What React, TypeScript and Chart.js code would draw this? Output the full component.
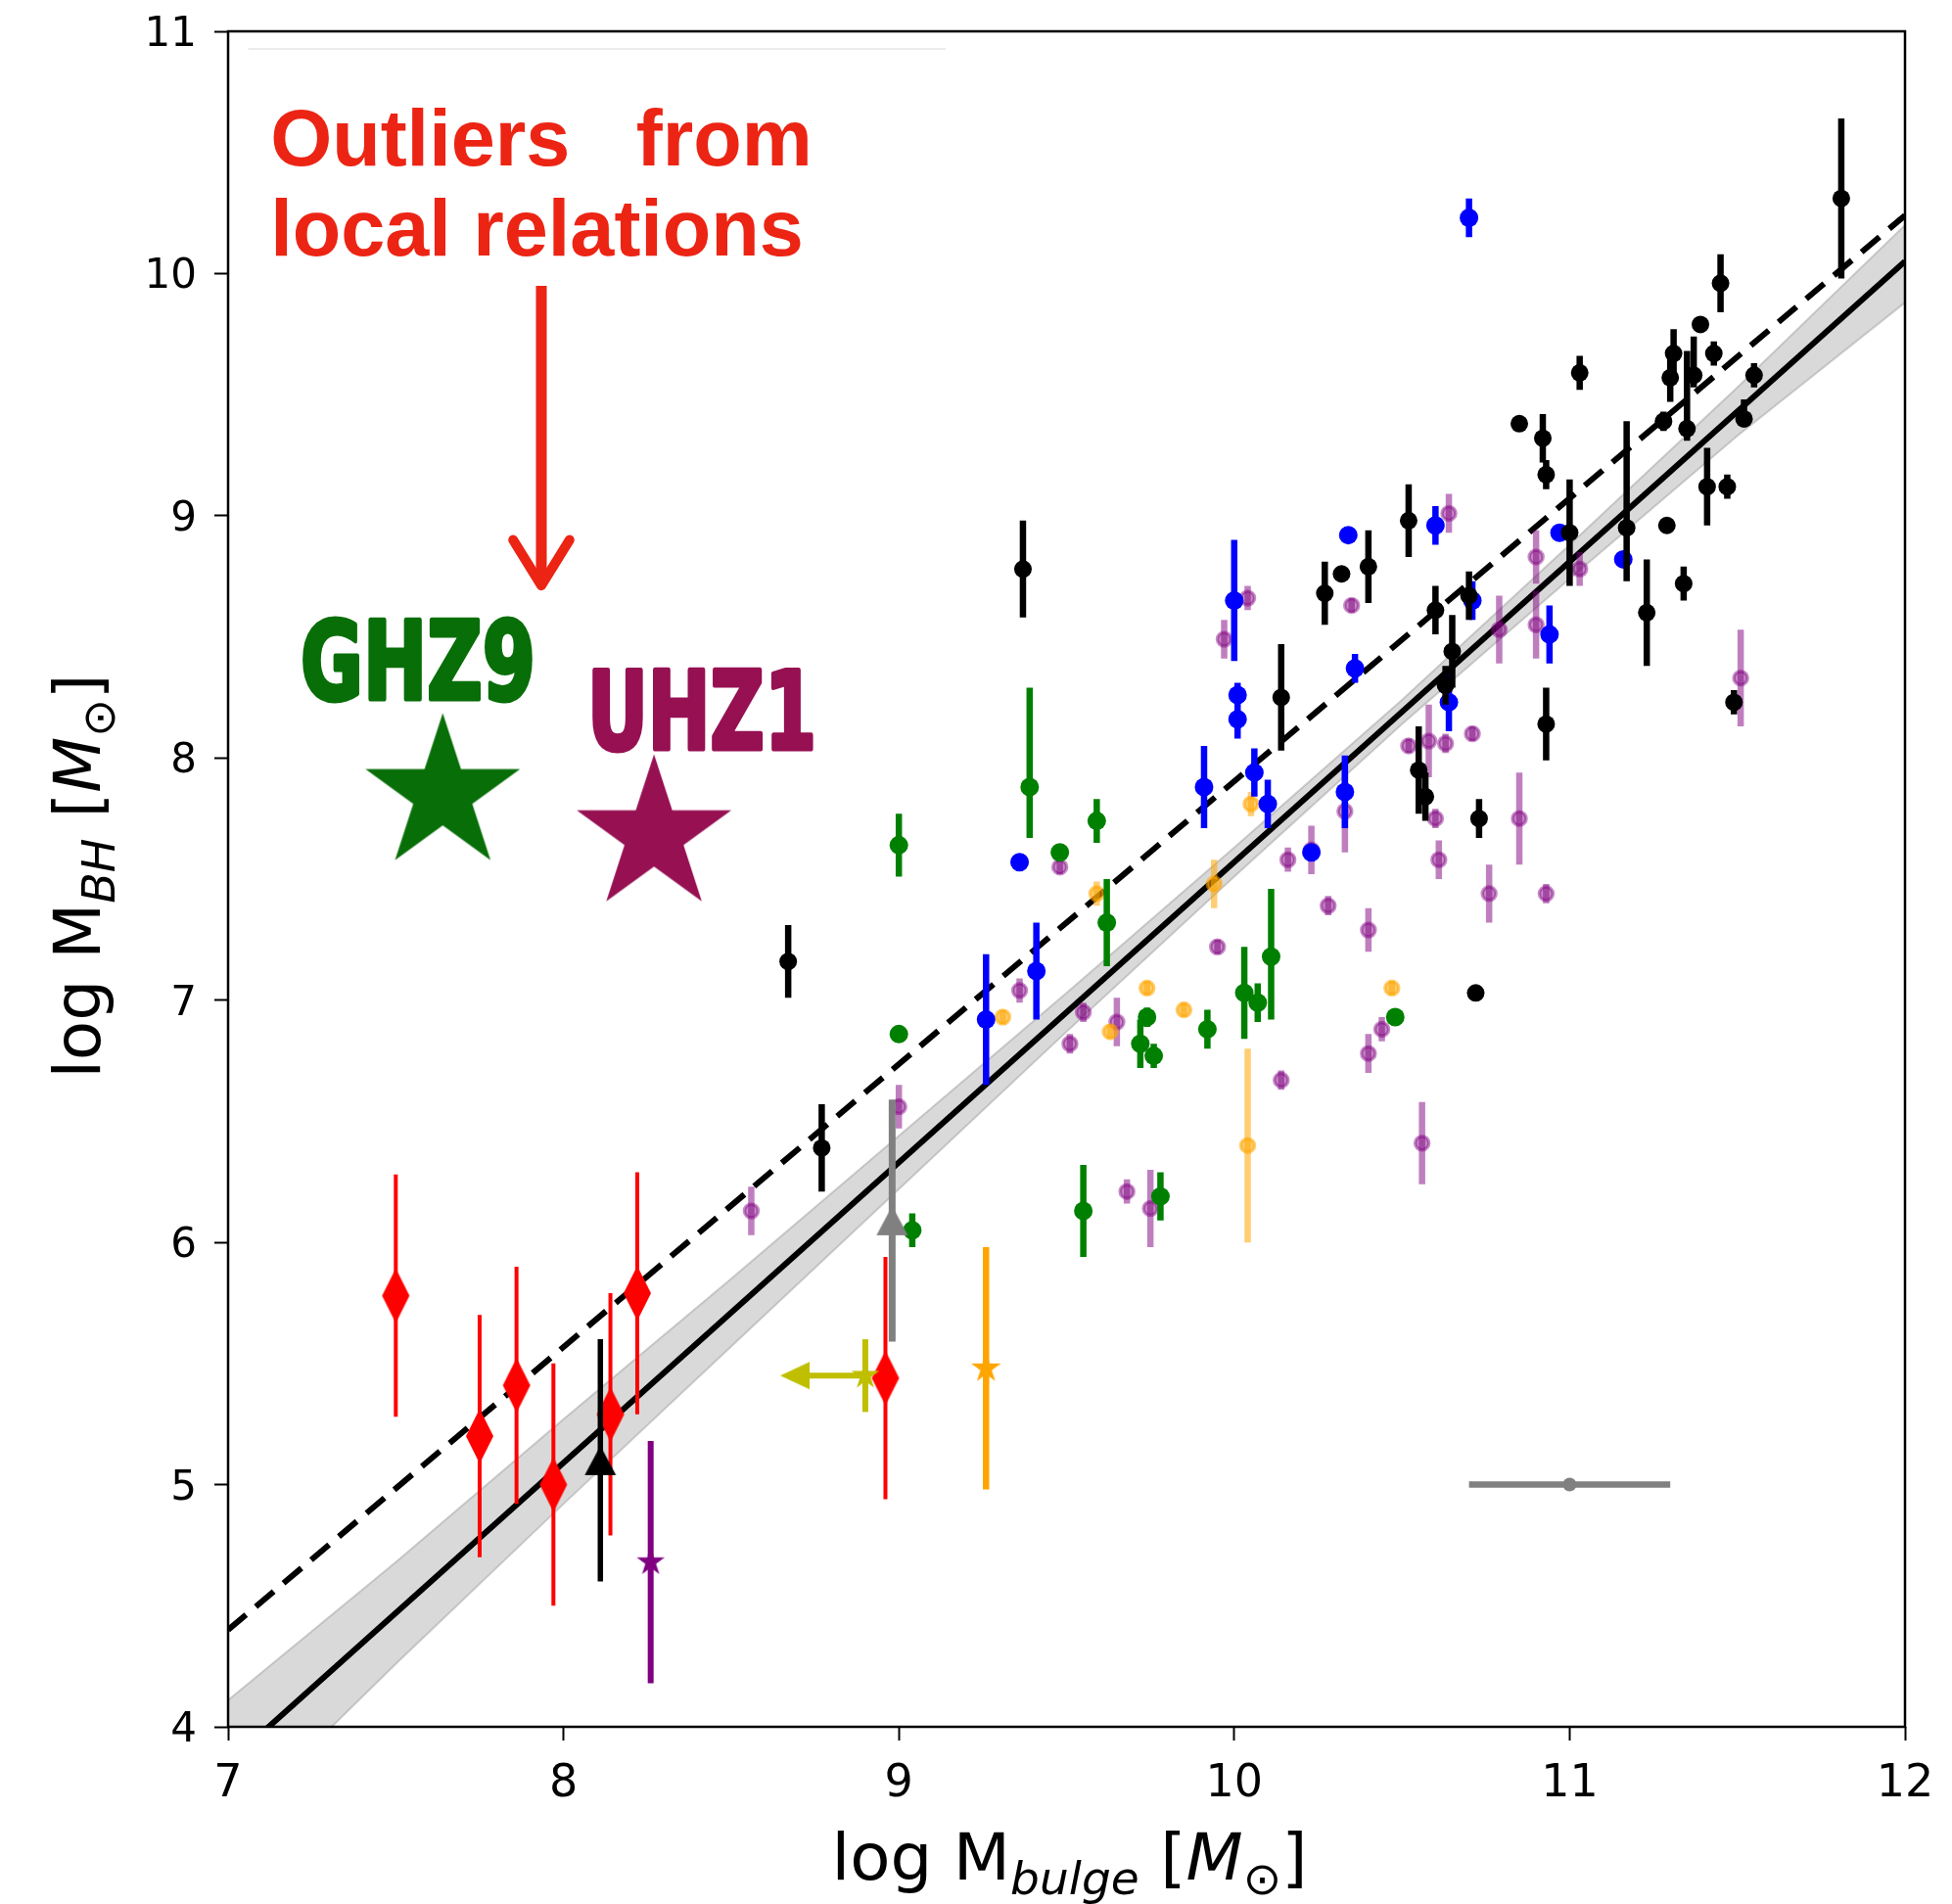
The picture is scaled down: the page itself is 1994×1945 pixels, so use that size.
import React, { useEffect, useRef } from 'react';
import { Chart, registerables } from 'chart.js';

Chart.register(...registerables);

// ---------------- data ----------------
const fitX = [7, 12];
const solidFitY = [3.85, 10.05];
const dashedFitY = [4.40, 10.24];

const bandX = [7, 7.5, 8, 8.5, 9, 9.5, 10, 10.5, 11, 11.5, 12];
const bandHi = [4.11, 4.68, 5.27, 5.85, 6.44, 7.03, 7.63, 8.24, 8.88, 9.53, 10.20];
const bandLo = [3.58, 4.26, 4.92, 5.57, 6.22, 6.87, 7.51, 8.14, 8.74, 9.33, 9.88];

const blackX = [8.67, 8.77, 9.37, 10.14, 10.27, 10.32, 10.40, 10.52, 10.55, 10.57, 10.60, 10.63, 10.65, 10.70, 10.73, 10.72, 10.85, 10.92, 10.93, 10.93, 11.00, 11.03, 11.17, 11.23, 11.29, 11.34, 11.28, 11.30, 11.31, 11.35, 11.37, 11.39, 11.43, 11.45, 11.41, 11.47, 11.52, 11.55, 11.49, 11.81];
const blackY = [7.16, 6.39, 8.78, 8.25, 8.68, 8.76, 8.79, 8.98, 7.95, 7.84, 8.61, 8.30, 8.44, 8.67, 7.75, 7.03, 9.38, 9.32, 9.17, 8.14, 8.93, 9.59, 8.95, 8.60, 8.96, 8.72, 9.39, 9.57, 9.67, 9.36, 9.58, 9.79, 9.67, 9.96, 9.12, 9.12, 9.40, 9.58, 8.23, 10.31];
const blackLo = [0.15, 0.18, 0.2, 0.22, 0.13, 0, 0.15, 0.15, 0.18, 0.1, 0.1, 0.08, 0.15, 0.1, 0.08, 0, 0.03, 0.1, 0.06, 0.15, 0.22, 0.07, 0.22, 0.22, 0, 0.07, 0.04, 0.1, 0.1, 0.05, 0.05, 0, 0.05, 0.12, 0.16, 0.05, 0.03, 0.05, 0.05, 0.33];
const blackHi = [0.15, 0.18, 0.2, 0.22, 0.13, 0, 0.15, 0.15, 0.18, 0.1, 0.1, 0.08, 0.15, 0.1, 0.08, 0, 0.03, 0.1, 0.06, 0.15, 0.22, 0.07, 0.44, 0.22, 0, 0.07, 0.04, 0.1, 0.1, 0.32, 0.16, 0, 0.05, 0.12, 0.16, 0.05, 0.08, 0.05, 0.05, 0.33];

const blueX = [10.70, 9.36, 9.26, 9.41, 9.91, 10.00, 10.01, 10.01, 10.06, 10.10, 10.23, 10.33, 10.34, 10.36, 10.60, 10.64, 10.71, 10.94, 10.97, 11.16];
const blueY = [10.23, 7.57, 6.92, 7.12, 7.88, 8.65, 8.26, 8.16, 7.94, 7.81, 7.61, 7.86, 8.92, 8.37, 8.96, 8.23, 8.65, 8.51, 8.93, 8.82];
const blueLo = [0.08, 0, 0.27, 0.2, 0.17, 0.25, 0.05, 0.08, 0.1, 0.1, 0, 0.15, 0, 0.06, 0.08, 0.12, 0.08, 0.12, 0.03, 0];
const blueHi = [0.08, 0, 0.27, 0.2, 0.17, 0.25, 0.05, 0.08, 0.1, 0.1, 0, 0.15, 0, 0.06, 0.08, 0.12, 0.08, 0.12, 0.03, 0];

const greenX = [9.00, 9.00, 9.04, 9.39, 9.48, 9.59, 9.62, 9.55, 9.72, 9.74, 9.76, 9.78, 9.92, 10.03, 10.07, 10.11, 10.48];
const greenY = [7.64, 6.86, 6.05, 7.88, 7.61, 7.74, 7.32, 6.13, 6.82, 6.93, 6.77, 6.19, 6.88, 7.03, 6.99, 7.18, 6.93];
const greenLo = [0.13, 0, 0.07, 0.21, 0.03, 0.09, 0.18, 0.19, 0.1, 0.04, 0.05, 0.1, 0.08, 0.19, 0.08, 0.26, 0];
const greenHi = [0.13, 0, 0.07, 0.41, 0.03, 0.09, 0.18, 0.19, 0.1, 0.04, 0.05, 0.1, 0.08, 0.19, 0.08, 0.28, 0];

const orangeX = [9.31, 9.59, 9.63, 9.74, 9.85, 9.94, 10.04, 10.05, 10.47];
const orangeY = [6.93, 7.44, 6.87, 7.05, 6.96, 7.48, 6.40, 7.81, 7.05];
const orangeErr = [0.03, 0.05, 0.03, 0.03, 0.03, 0.1, 0.4, 0.05, 0.03];

const purpleX = [8.56, 9.00, 9.36, 9.48, 9.51, 9.55, 9.65, 9.68, 9.75, 9.95, 9.97, 10.04, 10.14, 10.16, 10.23, 10.28, 10.33, 10.35, 10.40, 10.40, 10.44, 10.52, 10.56, 10.58, 10.60, 10.61, 10.63, 10.64, 10.71, 10.76, 10.79, 10.85, 10.90, 10.90, 10.93, 11.03, 11.51];
const purpleY = [6.13, 6.56, 7.04, 7.55, 6.82, 6.95, 6.91, 6.21, 6.14, 7.22, 8.49, 8.66, 6.67, 7.58, 7.62, 7.39, 7.78, 8.63, 7.29, 6.78, 6.88, 8.05, 6.41, 8.07, 7.75, 7.58, 8.06, 9.01, 8.10, 7.44, 8.53, 7.75, 8.83, 8.55, 7.44, 8.78, 8.33];
const purpleErr = [0.1, 0.09, 0.05, 0.03, 0.04, 0.04, 0.1, 0.05, 0.16, 0.03, 0.08, 0.05, 0.04, 0.05, 0.1, 0.04, 0.17, 0.03, 0.09, 0.08, 0.05, 0.03, 0.17, 0.15, 0.04, 0.08, 0.04, 0.08, 0.03, 0.12, 0.14, 0.19, 0.11, 0.14, 0.04, 0.07, 0.2];

const redX = [7.50, 7.75, 7.86, 7.97, 8.14, 8.22, 8.96];
const redY = [5.78, 5.20, 5.41, 5.00, 5.29, 5.79, 5.44];
const redErr = [0.5, 0.5, 0.49, 0.5, 0.5, 0.5, 0.5];

const blackTriX = [8.11];
const blackTriY = [5.10];
const blackTriErr = [0.5];

const grayTriX = [8.98];
const grayTriY = [6.09];
const grayTriErr = [0.5];

const orangeStarX = [9.26];
const orangeStarY = [5.48];
const orangeStarErr = [0.5];

const purpleStarX = [8.26];
const purpleStarY = [4.68];
const purpleStarErr = [0.5];

const yellowStarX = [8.90];
const yellowStarY = [5.45];
const yellowStarErr = [0.15];
const yellowLimitX = [8.69];

const grayRefX = [11.0];
const grayRefY = [5.0];
const grayRefXErr = [0.3];

const ghz9X = [7.64];
const ghz9Y = [7.85];
const uhz1X = [8.27];
const uhz1Y = [7.68];

const xTickValues = [7, 8, 9, 10, 11, 12];
const yTickValues = [4, 5, 6, 7, 8, 9, 10, 11];
const xTickLabels = ['7', '8', '9', '10', '11', '12'];
const yTickLabels = ['4', '5', '6', '7', '8', '9', '10', '11'];

// ---------------- helpers ----------------
type P = { x: number; y: number | null };
const pts = (xs: number[], ys: number[]): P[] => xs.map((x, i) => ({ x, y: ys[i] }));
const vErr = (xs: number[], ys: number[], lo: number[], hi: number[] = lo): P[] => {
  const out: P[] = [];
  xs.forEach((x, i) => {
    if (lo[i] > 0 || hi[i] > 0) {
      out.push({ x, y: ys[i] - lo[i] }, { x, y: ys[i] + hi[i] }, { x, y: null });
    }
  });
  return out;
};

function mkCanvas(w: number, h: number) {
  const c = document.createElement('canvas');
  c.width = Math.ceil(w);
  c.height = Math.ceil(h);
  return c;
}
function makeStar(R: number, color: string) {
  const s = Math.ceil(2 * R + 4);
  const c = mkCanvas(s, s);
  const g = c.getContext('2d')!;
  const cx = s / 2, cy = s / 2;
  g.beginPath();
  for (let i = 0; i < 10; i++) {
    const r = i % 2 === 0 ? R : R * 0.382;
    const a = -Math.PI / 2 + (i * Math.PI) / 5;
    g.lineTo(cx + r * Math.cos(a), cy + r * Math.sin(a));
  }
  g.closePath();
  g.fillStyle = color;
  g.fill();
  return c;
}
function makeDiamond(w: number, h: number, color: string) {
  const c = mkCanvas(w + 2, h + 2);
  const g = c.getContext('2d')!;
  const cx = (w + 2) / 2, cy = (h + 2) / 2;
  g.beginPath();
  g.moveTo(cx, 1); g.lineTo(w + 1, cy); g.lineTo(cx, h + 1); g.lineTo(1, cy);
  g.closePath();
  g.fillStyle = color;
  g.fill();
  return c;
}
function makeTriUp(w: number, h: number, color: string) {
  const c = mkCanvas(w + 2, h + 2);
  const g = c.getContext('2d')!;
  g.beginPath();
  g.moveTo((w + 2) / 2, 1); g.lineTo(w + 1, h + 1); g.lineTo(1, h + 1);
  g.closePath();
  g.fillStyle = color;
  g.fill();
  return c;
}
function makeTriLeft(w: number, h: number, color: string) {
  const c = mkCanvas(w + 2, h + 2);
  const g = c.getContext('2d')!;
  g.beginPath();
  g.moveTo(1, (h + 2) / 2); g.lineTo(w + 1, 1); g.lineTo(w + 1, h + 1);
  g.closePath();
  g.fillStyle = color;
  g.fill();
  return c;
}

type Seg = { t: string; s: number; it?: boolean; dy?: number };
function drawRich(ctx: CanvasRenderingContext2D, segs: Seg[], base: number, cx: number, cy: number, rot: number, target: number) {
  ctx.save();
  const fontOf = (sg: Seg) => `${sg.it ? 'italic ' : ''}${Math.round(base * sg.s)}px "DejaVu Sans"`;
  let total = 0;
  const ws = segs.map((sg) => {
    ctx.font = fontOf(sg);
    const w = ctx.measureText(sg.t).width;
    total += w;
    return w;
  });
  ctx.translate(cx, cy);
  ctx.rotate(rot);
  ctx.scale(target / total, 1);
  ctx.fillStyle = '#000';
  ctx.textAlign = 'left';
  ctx.textBaseline = 'alphabetic';
  let x = -total / 2;
  segs.forEach((sg, i) => {
    ctx.font = fontOf(sg);
    ctx.fillText(sg.t, x, (sg.dy || 0) * base);
    x += ws[i];
  });
  ctx.restore();
}

function drawFitText(ctx: CanvasRenderingContext2D, text: string, font: string, color: string, x: number, y: number, target: number, stroke: number) {
  ctx.save();
  ctx.font = font;
  const w = ctx.measureText(text).width;
  ctx.translate(x, y);
  ctx.scale(target / w, 1);
  ctx.fillStyle = color;
  ctx.strokeStyle = color;
  ctx.lineWidth = stroke;
  ctx.lineJoin = 'round';
  ctx.textAlign = 'left';
  ctx.textBaseline = 'alphabetic';
  ctx.fillText(text, 0, 0);
  if (stroke > 0) ctx.strokeText(text, 0, 0);
  ctx.restore();
}

const overlayPlugin = {
  id: 'overlay',
  afterDatasetsDraw(chart: any) {
    const { ctx, chartArea: a } = chart;
    ctx.save();
    ctx.strokeStyle = '#000';
    ctx.lineWidth = 2.5;
    ctx.strokeRect(a.left, a.top, a.right - a.left, a.bottom - a.top);
    ctx.restore();
  },
  afterDraw(chart: any) {
    const { ctx, chartArea: a } = chart;
    const sx = chart.scales.x, sy = chart.scales.y;
    const px = (v: number) => sx.getPixelForValue(v);
    const py = (v: number) => sy.getPixelForValue(v);

    // tick labels
    ctx.save();
    ctx.fillStyle = '#000';
    ctx.textBaseline = 'alphabetic';
    ctx.font = '46px "DejaVu Sans"';
    ctx.textAlign = 'center';
    xTickValues.forEach((v, i) => ctx.fillText(xTickLabels[i], px(v), a.bottom + 71));
    ctx.font = '42px "DejaVu Sans"';
    ctx.textAlign = 'right';
    yTickValues.forEach((v, i) => ctx.fillText(yTickLabels[i], a.left - 32, py(v) + 15));
    ctx.restore();

    // faint line near top
    ctx.save();
    ctx.strokeStyle = '#e4e4e4';
    ctx.lineWidth = 1.5;
    ctx.beginPath();
    ctx.moveTo(px(7.06), py(10.927));
    ctx.lineTo(px(9.14), py(10.927));
    ctx.stroke();
    ctx.restore();

    // red annotation
    const red = '#ec2414';
    ctx.save();
    ctx.fillStyle = red;
    ctx.font = 'bold 81px "Liberation Sans", Arial, sans-serif';
    ctx.textAlign = 'left';
    ctx.textBaseline = 'alphabetic';
    ctx.fillText('Outliers   from', px(7.126), py(10.446));
    ctx.fillText('local relations', px(7.126), py(10.074));
    ctx.strokeStyle = red;
    ctx.lineWidth = 11;
    ctx.lineCap = 'butt';
    ctx.beginPath();
    ctx.moveTo(px(7.934), py(9.949));
    ctx.lineTo(px(7.934), py(8.72));
    ctx.stroke();
    ctx.lineCap = 'round';
    ctx.lineJoin = 'round';
    ctx.lineWidth = 10;
    ctx.beginPath();
    ctx.moveTo(px(7.850), py(8.90));
    ctx.lineTo(px(7.934), py(8.712));
    ctx.lineTo(px(8.018), py(8.90));
    ctx.stroke();
    ctx.restore();

    // object labels
    drawFitText(ctx, 'GHZ9', 'bold 111px "DejaVu Sans"', '#086e08', px(7.216), py(8.245), 240, 5);
    drawFitText(ctx, 'UHZ1', 'bold 110px "DejaVu Sans"', '#961052', px(8.071), py(8.039), 234, 5);

    // axis titles
    const base = 66;
    drawRich(ctx, [
      { t: 'log M', s: 1 },
      { t: 'bulge', s: 0.7, it: true, dy: 0.22 },
      { t: ' [', s: 1 },
      { t: 'M', s: 1, it: true },
      { t: '\u2299', s: 0.7, dy: 0.22 },
      { t: ']', s: 1 },
    ], base, (a.left + a.right) / 2 + 3, 1920, 0, 486);
    drawRich(ctx, [
      { t: 'log M', s: 1 },
      { t: 'BH', s: 0.7, it: true, dy: 0.22 },
      { t: ' [', s: 1 },
      { t: 'M', s: 1, it: true },
      { t: '\u2299', s: 0.7, dy: 0.22 },
      { t: ']', s: 1 },
    ], base, 102, (a.top + a.bottom) / 2 - 3, -Math.PI / 2, 413);
  },
};

export default function App() {
  const ref = useRef<HTMLCanvasElement | null>(null);

  useEffect(() => {
    const canvas = ref.current;
    if (!canvas) return;

    const diamond = makeDiamond(28, 56, '#ff0000');
    const triBlack = makeTriUp(32, 30, '#000000');
    const triGray = makeTriUp(32, 30, '#808080');
    const starOrange = makeStar(16, '#ffa500');
    const starPurple = makeStar(15, '#800080');
    const starYellow = makeStar(15, '#bfbf00');
    const arrowYellow = makeTriLeft(30, 28, '#bfbf00');
    const starGHZ9 = makeStar(83, '#086e08');
    const starUHZ1 = makeStar(83, '#961052');

    const datasets: any[] = [];
    const line = (data: P[], color: string, width: number, order: number, extra: any = {}) =>
      datasets.push({ data, showLine: true, borderColor: color, borderWidth: width, pointRadius: 0, pointHoverRadius: 0, fill: false, spanGaps: false, order, ...extra });
    const marks = (data: P[], order: number, extra: any) =>
      datasets.push({ data, showLine: false, order, pointHoverRadius: 0, ...extra });

    const EW = 6.5;
    // confidence band
    line(pts(bandX, bandLo), 'rgba(128,128,128,0.35)', 2, 100);
    line(pts(bandX, bandHi), 'rgba(128,128,128,0.35)', 2, 99, { fill: '-1', backgroundColor: 'rgba(128,128,128,0.3)' });
    // fit lines
    line(pts(fitX, solidFitY), '#000', 6, 90);
    line(pts(fitX, dashedFitY), '#000', 6, 89, { borderDash: [24, 13] });

    // purple (light)
    line(vErr(purpleX, purpleY, purpleErr), 'rgba(128,0,128,0.5)', EW, 80);
    marks(pts(purpleX, purpleY), 79, { pointRadius: 7, pointBackgroundColor: 'rgba(128,0,128,0.45)', pointBorderColor: 'rgba(128,0,128,0.45)', pointBorderWidth: 3.5 });
    // orange (light)
    line(vErr(orangeX, orangeY, orangeErr), 'rgba(255,165,0,0.55)', EW, 78);
    marks(pts(orangeX, orangeY), 77, { pointRadius: 7, pointBackgroundColor: 'rgba(255,165,0,0.55)', pointBorderColor: 'rgba(255,165,0,0.55)', pointBorderWidth: 3.5 });
    // green
    line(vErr(greenX, greenY, greenLo, greenHi), '#008000', EW, 76);
    marks(pts(greenX, greenY), 75, { pointRadius: 9.5, pointBackgroundColor: '#008000', pointBorderWidth: 0 });
    // blue
    line(vErr(blueX, blueY, blueLo, blueHi), '#0000ff', EW, 74);
    marks(pts(blueX, blueY), 73, { pointRadius: 9.5, pointBackgroundColor: '#0000ff', pointBorderWidth: 0 });
    // black
    line(vErr(blackX, blackY, blackLo, blackHi), '#000000', EW, 72);
    marks(pts(blackX, blackY), 71, { pointRadius: 9, pointBackgroundColor: '#000000', pointBorderWidth: 0 });

    // gray triangle
    line(vErr(grayTriX, grayTriY, grayTriErr), '#808080', 7, 62);
    marks(pts(grayTriX, grayTriY), 61, { pointRadius: 15, pointStyle: triGray });
    // red diamonds
    line(vErr(redX, redY, redErr), '#ff0000', 4, 60);
    marks(pts(redX, redY), 59, { pointRadius: 15, pointStyle: diamond });
    // black triangle
    line(vErr(blackTriX, blackTriY, blackTriErr), '#000000', 5.5, 58);
    marks(pts(blackTriX, blackTriY), 57, { pointRadius: 15, pointStyle: triBlack });
    // orange star
    line(vErr(orangeStarX, orangeStarY, orangeStarErr), '#ffa500', 6.5, 56);
    marks(pts(orangeStarX, orangeStarY), 55, { pointRadius: 15, pointStyle: starOrange });
    // purple star
    line(vErr(purpleStarX, purpleStarY, purpleStarErr), '#800080', 6, 54);
    marks(pts(purpleStarX, purpleStarY), 53, { pointRadius: 15, pointStyle: starPurple });
    // yellow star with upper limit arrow
    line(vErr(yellowStarX, yellowStarY, yellowStarErr), '#bfbf00', 6, 52);
    line([{ x: yellowStarX[0], y: yellowStarY[0] }, { x: yellowLimitX[0], y: yellowStarY[0] }], '#bfbf00', 6, 51);
    marks(pts(yellowLimitX, yellowStarY), 50, { pointRadius: 15, pointStyle: arrowYellow });
    marks(pts(yellowStarX, yellowStarY), 49, { pointRadius: 15, pointStyle: starYellow });
    // typical uncertainty (horizontal)
    line([{ x: grayRefX[0] - grayRefXErr[0], y: grayRefY[0] }, { x: grayRefX[0] + grayRefXErr[0], y: grayRefY[0] }], '#808080', 6.5, 48);
    marks(pts(grayRefX, grayRefY), 47, { pointRadius: 7, pointBackgroundColor: '#808080', pointBorderWidth: 0 });

    // GHZ9 and UHZ1
    marks(pts(ghz9X, ghz9Y), 2, { pointRadius: 80, pointStyle: starGHZ9 });
    marks(pts(uhz1X, uhz1Y), 1, { pointRadius: 80, pointStyle: starUHZ1 });

    const grid = { display: true, drawOnChartArea: false, drawTicks: true, tickLength: 14, tickWidth: 2, tickColor: '#000', color: '#000' };
    const chart = new Chart(canvas, {
      type: 'scatter',
      data: { datasets },
      options: {
        animation: false,
        responsive: false,
        events: [],
        layout: { autoPadding: false, padding: { left: 0, top: 32, right: 48, bottom: 0 } },
        plugins: { legend: { display: false }, tooltip: { enabled: false }, title: { display: false } },
        scales: {
          x: {
            type: 'linear',
            min: xTickValues[0],
            max: xTickValues[xTickValues.length - 1],
            afterFit: (s: any) => { s.height = 181; },
            border: { display: false },
            grid,
            ticks: { stepSize: 1, display: false, autoSkip: false },
          },
          y: {
            type: 'linear',
            min: yTickValues[0],
            max: yTickValues[yTickValues.length - 1],
            afterFit: (s: any) => { s.width = 233; },
            border: { display: false },
            grid,
            ticks: { stepSize: 1, display: false, autoSkip: false },
          },
        },
      } as any,
      plugins: [overlayPlugin as any],
    });
    return () => chart.destroy();
  }, []);

  return (
    <div style={{ position: 'absolute', left: 0, top: 0, width: 1994, height: 1945, background: '#fff' }}>
      <canvas ref={ref} width={1994} height={1945} style={{ display: 'block' }} />
    </div>
  );
}
